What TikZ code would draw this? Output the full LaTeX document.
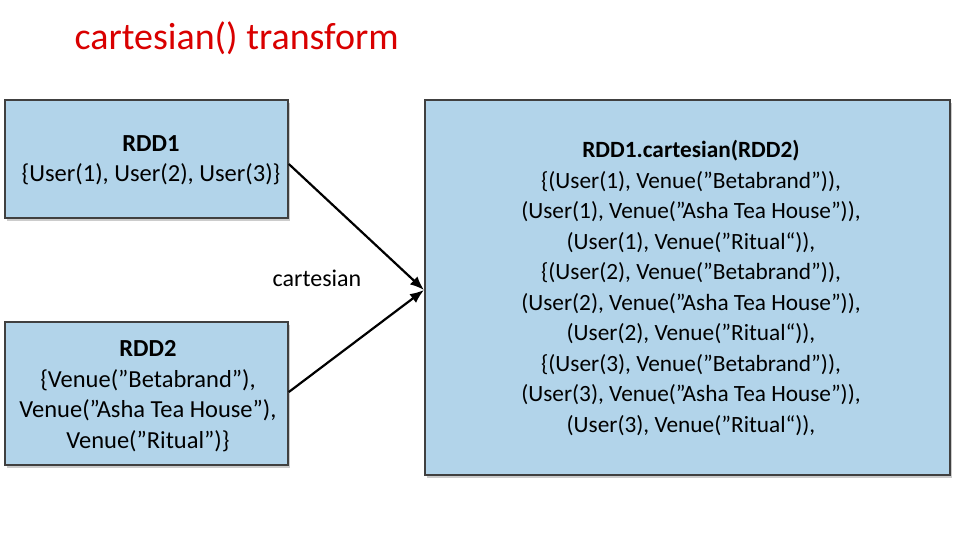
\documentclass[tikz,border=0pt]{standalone}
\usepackage{fontspec}
\setmainfont{Carlito}
\usetikzlibrary{positioning,shadows,arrows.meta}
\definecolor{boxblue}{RGB}{178,212,234}

\begin{document}
\begin{tikzpicture}[x=1pt, y=-1pt,
box/.style={rectangle, draw=black!75, line width=1.6pt, fill=boxblue, drop shadow={shadow xshift=2pt, shadow yshift=-3pt, fill=black!40}},
body/.style={align=center, font=\fontsize{23.3}{30.5}\selectfont, inner sep=0pt},
link/.style={-{Latex[length=14pt,width=11pt]}, line width=2.2pt}]

\useasboundingbox (0,0) rectangle (960,540);

\node[anchor=west, text=red!85!black, font=\fontsize{38}{40}\selectfont] (title) at (71,38) {cartesian() transform};

\node[box, minimum width=283pt, minimum height=118pt] (rdd1) at (146.5,159) {};
\node[box, minimum width=283pt, minimum height=143pt] (rdd2) at (146.5,393.5) {};
\node[box, minimum width=525pt, minimum height=375pt] (res) at (687.5,287.5) {};

\node[body, font=\fontsize{24.5}{30.5}\selectfont] (t1) at (151,160) {\textbf{RDD1}\\\{User(1), User(2), User(3)\}};
\node[body, font=\fontsize{24.5}{30.5}\selectfont] (t2) at (148,396) {\textbf{RDD2}\\\{Venue(”Betabrand”),\\Venue(”Asha Tea House”),\\Venue(”Ritual”)\}};
\node[body] (t3) at (691,288) {\textbf{RDD1.cartesian(RDD2)}\\
\{(User(1), Venue(”Betabrand”)),\\
(User(1), Venue(”Asha Tea House”)),\\
(User(1), Venue(”Ritual“)),\\
\{(User(2), Venue(”Betabrand”)),\\
(User(2), Venue(”Asha Tea House”)),\\
(User(2), Venue(”Ritual“)),\\
\{(User(3), Venue(”Betabrand”)),\\
(User(3), Venue(”Asha Tea House”)),\\
(User(3), Venue(”Ritual“)),};

\coordinate (tip) at (424,290);
\draw[link] (rdd1.east |- 0,164) -- (tip);
\draw[link] (rdd2.east |- 0,392) -- (tip);
\node[font=\fontsize{24}{26}\selectfont] (lbl) at (317,278) {cartesian};
\end{tikzpicture}
\end{document}
